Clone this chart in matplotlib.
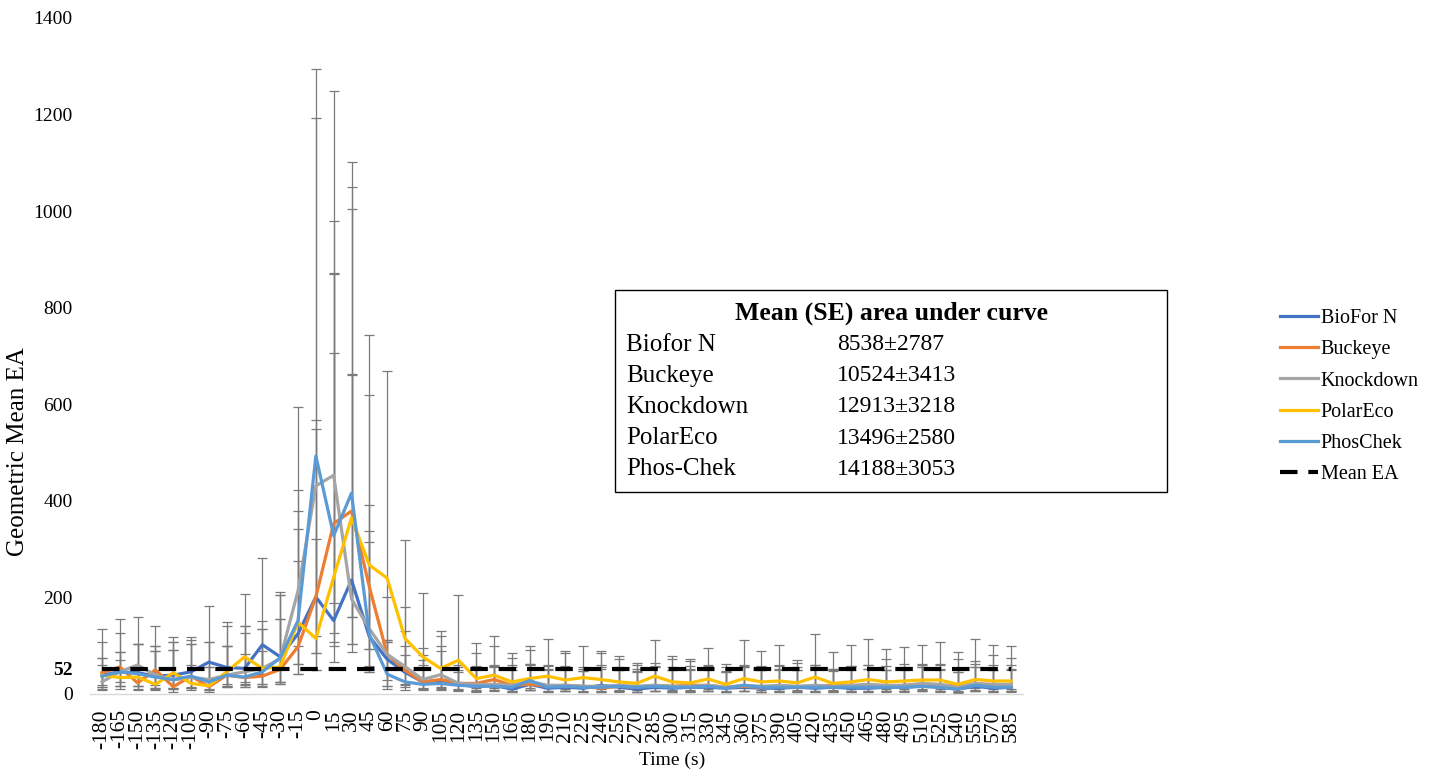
import numpy as np
import matplotlib
matplotlib.use("Agg")
import matplotlib.pyplot as plt
from matplotlib.patches import Rectangle

plt.rcParams['font.family'] = ['Liberation Serif', 'DejaVu Serif']

times = list(range(-180, 586, 15))

series_names = ["BioFor N", "Buckeye", "Knockdown", "PolarEco", "PhosChek"]
series_colors = ["#4472C4", "#ED7D31", "#A5A5A5", "#FFC000", "#5B9BD5"]

biofor = [39, 46, 44, 37, 39, 46, 66, 55, 53, 102, 77, 125,
          201, 152, 236, 119, 72, 45, 25, 28, 20,
          15, 18, 10, 20, 12, 14, 12, 18, 14, 10, 14, 12, 14, 14, 12, 14,
          12, 12, 14, 12, 14, 12, 12, 14, 14, 16, 14, 10, 16, 12, 14]
biofor_hi = [107, 127, 103, 100, 108, 111, 182, 140, 140, 281, 156, 275,
             320, 706, 663, 314, 111, 100, 60, 55, 45,
             58, 60, 55, 60, 50, 52, 48, 55, 50, 45, 55, 50, 52, 50, 45, 55,
             50, 52, 50, 55, 50, 55, 52, 50, 52, 55, 50, 45, 55, 50, 52]
biofor_lo = [14, 16, 16, 12, 12, 12, 20, 20, 18, 41, 20, 62,
             84, 66, 103, 57, 16, 15, 10, 10, 8,
             6, 8, 5, 8, 5, 6, 5, 6, 5, 4, 6, 5, 6, 6, 5, 6,
             5, 5, 6, 5, 6, 5, 5, 6, 6, 7, 6, 4, 7, 5, 6]

buckeye = [44, 56, 23, 50, 15, 37, 15, 39, 34, 37, 51, 98,
           201, 353, 379, 222, 82, 49, 25, 30, 22,
           22, 30, 18, 20, 16, 18, 16, 12, 16, 14, 18, 16, 18, 18, 14, 16,
           14, 16, 14, 16, 18, 16, 18, 16, 18, 20, 18, 14, 20, 18, 18]
buckeye_hi = [135, 156, 103, 141, 92, 103, 107, 100, 127, 135, 205, 378,
              568, 979, 1005, 620, 201, 180, 95, 90, 60,
              84, 100, 75, 92, 58, 85, 55, 85, 72, 60, 65, 72, 68, 58, 55, 60,
              58, 60, 65, 60, 52, 58, 60, 72, 62, 60, 62, 72, 68, 80, 75]
buckeye_lo = [18, 25, 8, 18, 5, 15, 8, 16, 14, 16, 25, 41,
              49, 107, 160, 94, 30, 18, 10, 12, 10,
              8, 12, 6, 8, 6, 7, 6, 4, 6, 5, 7, 6, 7, 7, 5, 6,
              5, 6, 5, 6, 7, 6, 7, 6, 7, 8, 7, 5, 8, 7, 7]

knockdown = [25, 46, 60, 39, 29, 35, 30, 39, 46, 53, 73, 214,
             431, 453, 197, 135, 82, 57, 30, 40, 22,
             20, 20, 18, 26, 18, 18, 16, 16, 18, 16, 18, 16, 16, 18, 14, 18,
             16, 18, 16, 18, 16, 18, 20, 18, 18, 22, 20, 16, 22, 20, 20]
knockdown_hi = [74, 86, 160, 90, 108, 119, 55, 149, 207, 152, 211, 423,
                1192, 1248, 1102, 392, 107, 130, 80, 120, 55,
                55, 58, 60, 62, 60, 58, 52, 60, 55, 52, 58, 55, 58, 60, 48, 58,
                55, 58, 55, 60, 52, 58, 60, 58, 55, 62, 60, 52, 62, 60, 60]
knockdown_lo = [8, 16, 16, 10, 10, 12, 10, 15, 20, 20, 20, 100,
                120, 189, 86, 45, 16, 20, 12, 14, 8,
                7, 8, 6, 9, 6, 6, 5, 5, 6, 5, 6, 5, 5, 6, 4, 6,
                5, 6, 5, 6, 5, 6, 7, 6, 6, 7, 7, 5, 7, 7, 7]

polareco = [39, 34, 35, 20, 44, 22, 17, 46, 77, 53, 56, 149,
            115, 242, 365, 267, 240, 115, 77, 53, 70,
            32, 39, 25, 32, 37, 29, 34, 30, 25, 22, 37, 25, 23, 31, 20, 32,
            25, 27, 23, 35, 22, 25, 30, 25, 27, 29, 29, 20, 30, 27, 27]
polareco_hi = [60, 70, 45, 100, 119, 60, 55, 100, 140, 90, 205, 341,
               548, 872, 1049, 743, 669, 318, 210, 130, 205,
               105, 120, 85, 100, 113, 90, 100, 90, 78, 65, 112, 78, 72, 95, 63, 112,
               90, 102, 70, 125, 88, 102, 113, 93, 98, 102, 107, 88, 113, 102, 100]
polareco_lo = [10, 10, 10, 8, 12, 8, 5, 14, 25, 14, 25, 62,
               84, 127, 160, 94, 107, 50, 30, 20, 25,
               12, 14, 10, 12, 12, 10, 12, 10, 8, 8, 12, 8, 8, 10, 7, 12,
               8, 10, 8, 12, 8, 10, 12, 10, 10, 11, 10, 7, 12, 10, 10]

phoschek = [37, 46, 42, 35, 30, 37, 25, 39, 35, 46, 75, 152,
            493, 328, 416, 123, 41, 25, 20, 22, 18,
            16, 16, 14, 28, 14, 16, 14, 14, 16, 14, 16, 14, 14, 16, 12, 18,
            14, 14, 14, 14, 14, 14, 14, 14, 14, 16, 14, 10, 18, 14, 14]
phoschek_hi = [74, 86, 103, 90, 92, 103, 107, 100, 82, 135, 156, 594,
               1295, 870, 660, 338, 111, 80, 70, 100, 50,
               52, 55, 50, 62, 52, 50, 48, 52, 50, 48, 55, 50, 50, 52, 45, 55,
               50, 50, 50, 52, 48, 50, 52, 50, 50, 55, 52, 45, 55, 50, 50]
phoschek_lo = [14, 16, 16, 12, 10, 12, 8, 16, 14, 20, 25, 41,
               49, 100, 103, 45, 10, 8, 8, 8, 6,
               5, 6, 5, 8, 5, 6, 5, 5, 6, 4, 6, 5, 5, 6, 4, 6,
               5, 5, 5, 5, 5, 5, 5, 5, 5, 6, 5, 3, 6, 5, 5]

mean_ea = 52

table_title = "Mean (SE) area under curve"
table_labels = ["Biofor N", "Buckeye", "Knockdown", "PolarEco", "Phos-Chek"]
table_values = ["8538\u00b12787", "10524\u00b13413", "12913\u00b13218", "13496\u00b12580", "14188\u00b13053"]

yticks = [0, 200, 400, 600, 800, 1000, 1200, 1400]

all_vals = [biofor, buckeye, knockdown, polareco, phoschek]
all_hi = [biofor_hi, buckeye_hi, knockdown_hi, polareco_hi, phoschek_hi]
all_lo = [biofor_lo, buckeye_lo, knockdown_lo, polareco_lo, phoschek_lo]

W, H = 1437, 772
fig = plt.figure(figsize=(W / 100, H / 100), dpi=100)
ax = fig.add_axes([90 / W, 1 - 694 / H, 933 / W, (694 - 18) / H])

xpos = np.arange(len(times))

handles = []
for vals, hi, lo in zip(all_vals, all_hi, all_lo):
    v = np.array(vals, dtype=float)
    err = [v - np.array(lo), np.array(hi) - v]
    ax.errorbar(xpos, v, yerr=err, fmt='none', ecolor='#7a7a7a', elinewidth=0.9,
                capsize=3.5, capthick=0.9, zorder=2)
for vals, name, col in zip(all_vals, series_names, series_colors):
    h, = ax.plot(xpos, vals, color=col, lw=2.3, solid_joinstyle='round', zorder=3, label=name)
    handles.append(h)
mh, = ax.plot(xpos, np.full(len(xpos), mean_ea), color='black', lw=3.0,
              dashes=(4.2, 2.6), zorder=4, label="Mean EA")
handles.append(mh)

ax.set_xlim(-0.67, len(times) - 1 + 0.67)
ax.set_ylim(0, 1400)
ax.set_xticks(xpos)
ax.set_xticklabels([str(t) for t in times], rotation=90, fontsize=15.5)
ticks = sorted(yticks + [mean_ea])
ax.set_yticks(ticks)
labels = ax.set_yticklabels([str(t) for t in ticks], fontsize=14)
for lab, t in zip(labels, ticks):
    if t == mean_ea:
        lab.set_fontweight('bold')
ax.tick_params(axis='both', length=0)
ax.tick_params(axis='y', pad=12.5)
ax.tick_params(axis='x', pad=11)
for s in ['top', 'right', 'left']:
    ax.spines[s].set_visible(False)
ax.spines['bottom'].set_color('#d9d9d9')
ax.spines['bottom'].set_linewidth(1.0)

fig.text(18 / W, 1 - 452 / H, "Geometric Mean EA", rotation=90, ha='center', va='center', fontsize=18)
fig.text(672 / W, 1 - 760 / H, "Time (s)", ha='center', va='center', fontsize=14)

# table box
fig.patches.append(Rectangle((615 / W, 1 - 492 / H), 552 / W, 202 / H, transform=fig.transFigure,
                             facecolor='white', edgecolor='black', lw=1.0, zorder=5))
fig.text(891 / W, 1 - 313 / H, table_title, ha='center', va='center', fontsize=18.5,
         fontweight='bold', zorder=6)
row_y = [345, 376, 407, 438, 469]
for lab, val, yy in zip(table_labels, table_values, row_y):
    fig.text(626 / W, 1 - yy / H, lab, ha='left', va='center', fontsize=18, zorder=6)
    fig.text(837 / W, 1 - yy / H, val, ha='left', va='center', fontsize=17, zorder=6)

leg = fig.legend(handles=handles, labels=series_names + ["Mean EA"], loc='upper left',
                 bbox_to_anchor=(1272 / W, 1 - 301 / H), frameon=False, fontsize=14.5,
                 handlelength=1.9, handletextpad=0.12, labelspacing=0.6, borderaxespad=0)

fig.savefig("out.png", dpi=100)
